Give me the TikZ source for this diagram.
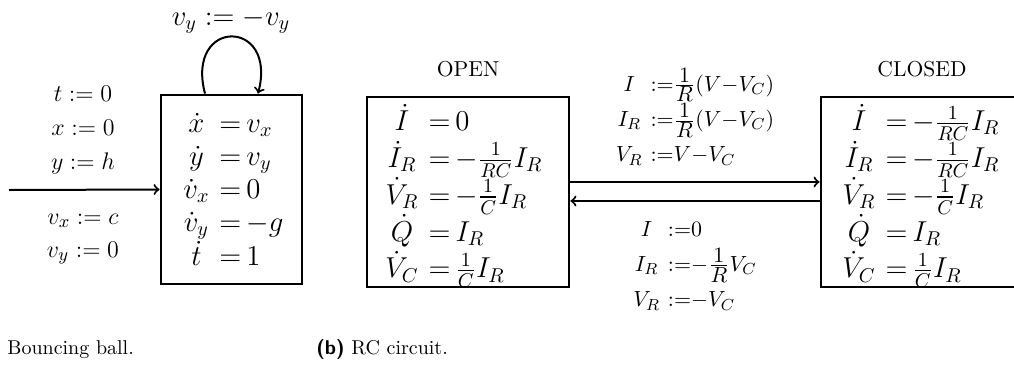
\documentclass[tikz,border=0pt]{standalone}
\usepackage{amsmath}
\newcommand{\myassign}{\mathord{:}\mathord{=}}
\newcommand{\myfrac}[2]{\frac{\textstyle #1}{\textstyle #2}}
\begin{document}
\begin{tikzpicture}[x=0.5pt,y=-0.5pt,
  statebox/.style={draw, line width=1.4pt, inner sep=0pt},
  eqs/.style={inner sep=0pt, anchor=base west, font=\fontsize{14}{16.6}\selectfont},
  rceqs/.style={inner sep=0pt, anchor=base west, font=\fontsize{14}{17.4}\selectfont},
  asglabel/.style={inner sep=0pt, anchor=base, font=\fontsize{13.2}{16}\selectfont},
  rclabel/.style={inner sep=0pt, anchor=base, font=\fontsize{11}{17.6}\selectfont},
  statename/.style={inner sep=0pt, anchor=base, font=\fontsize{10.8}{13}\selectfont},
  conn/.style={line width=1pt, ->},
  caption/.style={inner sep=0pt, anchor=base west, font=\fontsize{10}{12}\selectfont}]
\useasboundingbox (0,0) rectangle (1014,365);
\clip (0,0) rectangle (1014,365);

% ---------------- Bouncing ball ----------------
\node[statebox, minimum width=70.5pt, minimum height=94.5pt] (ball) at (231.5,189.5) {};
\node[eqs] (balleq) at (183,132) {$\begin{array}[t]{@{}c@{\hspace{5pt}}l@{}}
  \dot x & {=}\hspace{2.5pt}v_x \\
  \dot y & {=}\hspace{2.5pt}v_y \\
  \dot v_x & {=}\hspace{2.5pt}0 \\
  \dot v_y & {=}\hspace{2.5pt}{-g} \\
  \dot t & {=}\hspace{2.5pt}1
\end{array}$};
\coordinate (init) at (9,190);
\draw[conn] (init) -- (ball.west);
\node[asglabel] (l1) at (83,101) {$t := 0$};
\node[asglabel] (l2) at (83,135) {$x := 0$};
\node[asglabel] (l3) at (83,169) {$y := h$};
\node[asglabel] (l4) at (83,224) {$v_x := c$};
\node[asglabel] (l5) at (83,257) {$v_y := 0$};
\draw[conn] ([xshift=-13.25pt]ball.north) .. controls +(-20,-76) and +(20,-76) .. ([xshift=13.25pt]ball.north);
\node[asglabel, font=\fontsize{13.8}{16}\selectfont] (bounce) at (231,25) {$v_y := -v_y$};

% ---------------- RC circuit ----------------
\node[statebox, minimum width=101pt, minimum height=95pt] (open) at (468,192) {};
\node[statebox, minimum width=101pt, minimum height=95pt] (closed) at (922,192) {};
\node[statename] (openname) at (468,76) {OPEN};
\node[statename] (closedname) at (922,76) {CLOSED};
\node[rceqs] (openeq) at (385,130.5) {$\begin{array}[t]{@{}c@{\hspace{5pt}}l@{}}
  \dot I & {=}\hspace{2.5pt}0 \\
  \dot I_R & {=}\hspace{2.5pt}{-}\frac{1}{RC} I_R \\
  \dot V_R & {=}\hspace{2.5pt}{-}\frac{1}{C} I_R \\
  \dot Q & {=}\hspace{2.5pt}I_R \\
  \dot V_C & {=}\hspace{2.5pt}\frac{1}{C} I_R
\end{array}$};
\node[rceqs] (closedeq) at (842,130.5) {$\begin{array}[t]{@{}c@{\hspace{5pt}}l@{}}
  \dot I & {=}\hspace{2.5pt}{-}\frac{1}{RC} I_R \\
  \dot I_R & {=}\hspace{2.5pt}{-}\frac{1}{RC} I_R \\
  \dot V_R & {=}\hspace{2.5pt}{-}\frac{1}{C} I_R \\
  \dot Q & {=}\hspace{2.5pt}I_R \\
  \dot V_C & {=}\hspace{2.5pt}\frac{1}{C} I_R
\end{array}$};
\draw[conn] ([yshift=5pt]open.east) -- ([yshift=5pt]closed.west);
\draw[conn] ([yshift=-4.5pt]closed.west) -- ([yshift=-4.5pt]open.east);
\node[rclabel] (closelabel) at (695,91) {\begin{tabular}[t]{@{}c@{\hspace{4pt}}l@{}}
  $I$ & $\myassign\myfrac{1}{R}(V{-}V_C)$ \\
  $I_R$ & $\myassign\myfrac{1}{R}(V{-}V_C)$ \\
  $V_R$ & $\myassign V{-}V_C$
\end{tabular}};
\node[rclabel] (openlabel) at (695,236) {\begin{tabular}[t]{@{}c@{\hspace{4pt}}l@{}}
  $I$ & $\myassign 0$ \\
  $I_R$ & $\myassign{-}\myfrac{1}{R}V_C$ \\
  $V_R$ & $\myassign{-}V_C$
\end{tabular}};

% ---------------- captions ----------------
\node[caption] (capa) at (7,354) {Bouncing ball.};
\node[caption] (capb) at (316,354) {{\sffamily\bfseries (b)} RC circuit.};
\end{tikzpicture}
\end{document}
